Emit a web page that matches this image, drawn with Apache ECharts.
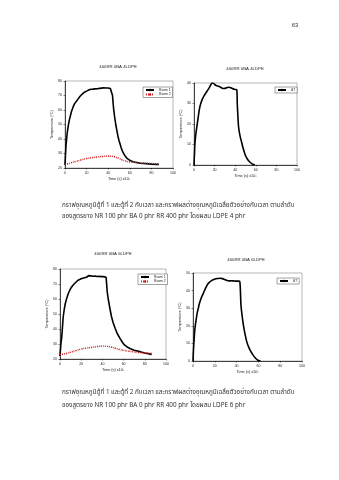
<!DOCTYPE html>
<html><head><meta charset="utf-8">
<script src="https://cdn.jsdelivr.net/npm/echarts@6/dist/echarts.min.js"></script>
<style>html,body{margin:0;padding:0;background:#fff}#c{width:339px;height:480px}</style>
</head><body><div id="c"></div>
<script>
// ---- data ----
const titles = ["400RR 0BA 4LDPE", "400RR 0BA 4LDPE", "400RR 0BA 6LDPE", "400RR 0BA 6LDPE"];
const xTicks = [0, 20, 40, 60, 80, 100];
const yTicksTemp = [20, 30, 40, 50, 60, 70, 80];
const yTicksDT4 = [0, 10, 20, 30, 40];
const yTicksDT6 = [0, 10, 20, 30, 40, 50];
const legendRoom = ["Room 1", "Room 2"];
const legendDT = ["ΔT"];

// chart 1 : 4 LDPE, room temperatures
const c1Time = [0,0.5,1,1.5,2,3,4,5,6,7,8,9,10,12,14,16,18,20,22,24,25,26,27,28,29,30,31,32,33,34,35,36,37,38,39,40,41,42,43.5,44,44.5,45,46,47,48,49,50,51,52,53,54,55,57,59,61,63,65,67,70,75,80,85,87];
const c1Room1 = [22,30,36,40,44,49,53,56,59,61,63,64.5,65.5,67.5,69.5,71,72.3,73,73.8,74.3,74.8,74.4,75,74.6,75.1,74.7,75.3,74.9,75.5,75.1,76,75.3,75.7,75.2,75.6,75.2,75,74.8,74.5,70,65,61,55,50,46,42,39,36.5,34,32,30.5,29,27,25.8,25,24.3,24,23.7,23.3,23,22.7,22.5,22.4];
const c1Time2 = [0,2,5,10,15,20,25,30,35,40,43,46,50,53,56,60,65,70,75,80,87];
const c1Room2 = [22.5,22.8,23.5,24.5,25.6,26.5,27.1,27.6,28,28.2,28.1,27.7,26.6,25.6,24.8,24.2,23.8,23.5,23.3,23.1,22.9];

// chart 2 : 4 LDPE, temperature difference
const c2Time = [0,0.5,1,2,3,4,5,6,8,10,12,14,16,17.5,19,21,23,25,27,29,31,33,35,37,39,41.5,42,42.5,43.2,44,45,46.3,47.5,49.4,51,53,55,57,59];
const c2DT = [0,6,11,16,19.5,23,26.5,29,32,34,35.5,37,38.8,40,39.8,38.9,38.5,38.2,37.6,37.3,37.5,37.9,37.8,37.4,36.9,36.7,30,25,19,16,13.5,11,8.5,5.4,3.6,2.1,1.1,0.4,0];

// chart 3 : 6 LDPE, room temperatures
const c3Time = [0,0.5,1,1.6,2,3,4,5,6.3,8,10,12,14,17,20,23,25,26,27,28,29,30,31,32,33,34,35,36,37,38,39,40,41,42,43.5,44,44.5,45.5,47,48.5,50,52,54,56.6,59,61,63,66,70,75.5,80,86.5];
const c3Room1 = [22,27,31,34,38,48,53,57,60.4,64,67,69,70.5,72.5,73.5,74.2,74.5,75.2,75.6,75.1,75.4,74.8,75.2,74.7,75.3,74.6,75,74.7,75.1,74.6,74.9,74.6,74.9,74.7,74.5,70,65,60,54,48.5,44.5,40.5,37,33.8,31,29.2,28.2,27,25.8,24.9,24,23.1];
const c3Time2 = [0,3,6,10,15,20,25,30,35,40,44,48,52,56,60,65,70,75,80,86.5];
const c3Room2 = [23,23.2,23.7,24.5,25.6,26.6,27.3,27.8,28.3,28.6,28.5,28,27.2,26.4,25.8,25.2,24.7,24.3,24,23.8];

// chart 4 : 6 LDPE, temperature difference
const c4Time = [0,0.5,1,1.8,3,4,4.9,6,8,9.5,12,14,17,20.2,23,25,27,29,31,33,35,37,39,41.6,43,44,45,46.2,47.5,49.3,51,53,55,57,59,61,62];
const c4DT = [0,7,12,18.6,24,27.8,30,33,36.5,38.5,42,44.1,45.7,46.6,46.9,47,46.8,46.3,45.8,45.5,45.6,45.5,45.4,45.4,45,31.8,26,20.5,16,11,8,5.5,3.5,1.8,0.6,0.1,0];

const caption1 = ["กราฟอุณหภูมิตู้ที่ 1 และตู้ที่ 2 กับเวลา และกราฟผลต่างอุณหภูมิเฉลี่ยตัวอย่างกับเวลา ตามลำดับ",
                  "ของสูตรยาง NR 100 phr BA 0 phr RR 400 phr โดยผสม LDPE 4 phr"];
const caption2 = ["กราฟอุณหภูมิตู้ที่ 1 และตู้ที่ 2 กับเวลา และกราฟผลต่างอุณหภูมิเฉลี่ยตัวอย่างกับเวลา ตามลำดับ",
                  "ของสูตรยาง NR 100 phr BA 0 phr RR 400 phr โดยผสม LDPE 6 phr"];
const pageNo = "63";

// ---- build ----
const zip = (a, b) => a.map((v, i) => [v, b[i]]);
const F = "Liberation Sans, Arial, sans-serif";
const TF = "Noto Sans, Noto Sans Thai, sans-serif";

const grids = [
  {left: 65, top: 81, width: 108, height: 87},
  {left: 194, top: 83, width: 103, height: 82},
  {left: 60, top: 269, width: 106, height: 90},
  {left: 193, top: 273, width: 109, height: 88}
];
grids.forEach(g => { g.show = true; g.borderColor = '#888'; g.borderWidth = 0.6; g.backgroundColor = '#fff'; });

const yRanges = [
  [yTicksTemp[0], yTicksTemp[yTicksTemp.length-1], 10],
  [yTicksDT4[0], yTicksDT4[yTicksDT4.length-1], 10],
  [yTicksTemp[0], yTicksTemp[yTicksTemp.length-1], 10],
  [yTicksDT6[0], yTicksDT6[yTicksDT6.length-1], 10]
];

const xAxis = grids.map((g, i) => ({
  type: 'value', gridIndex: i, min: xTicks[0], max: xTicks[xTicks.length-1], interval: 20,
  name: 'Time (s) x10³', nameLocation: 'middle', nameGap: 9,
  nameTextStyle: {fontSize: 3.8, color: '#222', fontFamily: F},
  axisLine: {lineStyle: {color: '#000', width: 0.7}},
  axisTick: {show: true, length: 1.5, lineStyle: {color: '#000', width: 0.5}},
  axisLabel: {fontSize: 3.5, color: '#222', margin: 3, fontFamily: F},
  splitLine: {show: false}
}));
const yAxis = grids.map((g, i) => ({
  type: 'value', gridIndex: i, min: yRanges[i][0], max: yRanges[i][1], interval: yRanges[i][2],
  name: 'Temperature (°C)', nameLocation: 'middle', nameGap: 10, nameRotate: 90,
  nameTextStyle: {fontSize: 3.8, color: '#222', fontFamily: F},
  axisLine: {show: true, lineStyle: {color: '#000', width: 0.7}},
  axisTick: {show: true, length: 1.5, lineStyle: {color: '#000', width: 0.5}},
  axisLabel: {fontSize: 3.5, color: '#222', margin: 3, fontFamily: F},
  splitLine: {show: false}
}));

const blackLine = w => ({color: '#000', width: w});
const red = {color: '#d42020', width: 1.5, type: [1, 1]};
const series = [
  {name: legendRoom[0], type: 'line', xAxisIndex: 0, yAxisIndex: 0, data: zip(c1Time, c1Room1), symbol: 'none', lineStyle: blackLine(1.6), itemStyle: {color: '#000'}},
  {name: legendRoom[1], type: 'line', xAxisIndex: 0, yAxisIndex: 0, data: zip(c1Time2, c1Room2), symbol: 'none', smooth: true, lineStyle: red, itemStyle: {color: '#d42020'}},
  {name: legendDT[0], type: 'line', xAxisIndex: 1, yAxisIndex: 1, data: zip(c2Time, c2DT), symbol: 'none', smooth: 0.3, lineStyle: blackLine(1.6), itemStyle: {color: '#000'}},
  {name: legendRoom[0], type: 'line', xAxisIndex: 2, yAxisIndex: 2, data: zip(c3Time, c3Room1), symbol: 'none', lineStyle: blackLine(1.6), itemStyle: {color: '#000'}},
  {name: legendRoom[1], type: 'line', xAxisIndex: 2, yAxisIndex: 2, data: zip(c3Time2, c3Room2), symbol: 'none', smooth: true, lineStyle: red, itemStyle: {color: '#d42020'}},
  {name: legendDT[0], type: 'line', xAxisIndex: 3, yAxisIndex: 3, data: zip(c4Time, c4DT), symbol: 'none', smooth: 0.3, lineStyle: blackLine(1.6), itemStyle: {color: '#000'}}
];

function legendAt(left, top, names) {
  return {left: left, top: top, orient: 'vertical', data: names, itemWidth: 8, itemHeight: 3, itemGap: 1.5,
    padding: [1.5, 2, 1.5, 2], borderColor: '#444', borderWidth: 0.5, backgroundColor: '#fff',
    textStyle: {fontSize: 3.3, color: '#222', fontFamily: F}, selectedMode: false};
}
const legends = [
  legendAt(143, 87, legendRoom),
  legendAt(275, 87, legendDT),
  legendAt(138, 274, legendRoom),
  legendAt(277, 278, legendDT)
];

const txt = (x, y, s, size, align, font, color) => ({type: 'text', x: x, y: y,
  style: {text: s, fontSize: size, fontFamily: font || F, fill: color || '#222', textAlign: align || 'center', textVerticalAlign: 'middle'}});

const graphic = [
  txt(118, 67, titles[0], 4.3),
  txt(245, 69, titles[1], 4.3),
  txt(113, 254, titles[2], 4.3),
  txt(246, 260, titles[3], 4.3),
  txt(295, 25, pageNo, 6, 'center', F, '#333'),
  txt(62, 205, caption1[0], 6.3, 'left', TF, '#333'),
  txt(62, 216, caption1[1], 6.3, 'left', TF, '#333'),
  txt(62, 392, caption2[0], 6.3, 'left', TF, '#333'),
  txt(62, 405, caption2[1], 6.3, 'left', TF, '#333')
];

const chart = echarts.init(document.getElementById('c'), null, {renderer: 'canvas'});
chart.setOption({
  animation: false, backgroundColor: '#fff',
  grid: grids, xAxis: xAxis, yAxis: yAxis, series: series, legend: legends, graphic: graphic
});
</script></body></html>
